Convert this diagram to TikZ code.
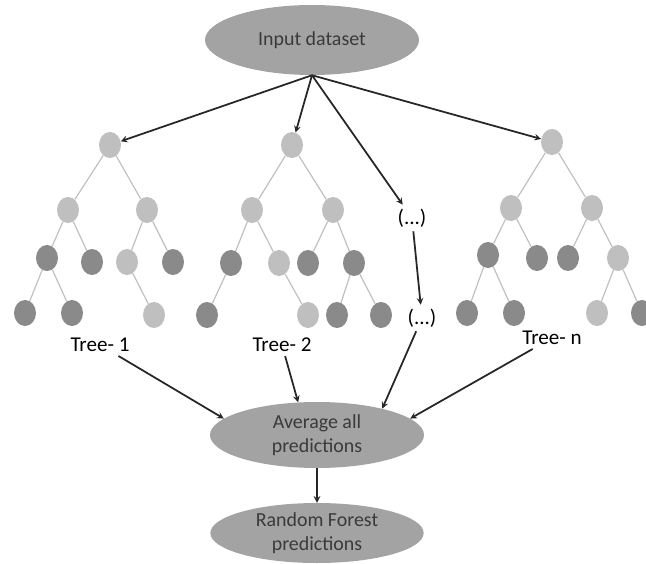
\documentclass[tikz,border=0pt]{standalone}
\usepackage{fontspec}
\setmainfont{Carlito}
\usetikzlibrary{shapes.geometric}

\definecolor{ovalgray}{HTML}{A3A3A3}
\definecolor{lightleaf}{HTML}{BFBFBF}
\definecolor{darkleaf}{HTML}{8A8A8A}
\definecolor{textgray}{HTML}{3A3A3A}

\begin{document}
\begin{tikzpicture}[
    x=0.03cm, y=-0.03cm,
    oval/.style={ellipse, fill=ovalgray, text=textgray, align=center, inner sep=0pt, font=\fontsize{17}{21}\selectfont},
    lnode/.style={ellipse, fill=lightleaf, minimum width=0.66cm, minimum height=0.78cm, inner sep=0pt},
    dnode/.style={ellipse, fill=darkleaf, minimum width=0.66cm, minimum height=0.78cm, inner sep=0pt},
    edge/.style={draw=lightleaf, line width=1pt},
    label/.style={text=black, font=\fontsize{18}{21}\selectfont},
    arr/.style={->, >=stealth, line width=1.5pt, black!85}
]
\useasboundingbox (0,0) rectangle (646,564);

% Input and output
\node[oval, minimum width=6.42cm, minimum height=2.1cm] (in) at (312,40) {Input dataset};
\node[oval, minimum width=6.42cm, minimum height=1.98cm] (avg) at (317,435) {Average all\\predictions};
\node[oval, minimum width=6.4cm, minimum height=1.8cm] (rf) at (317,533) {Random Forest\\predictions};

% Tree 1
\node[lnode] (t1r) at (110,145) {};
\node[lnode] (t1a) at (68,210) {};
\node[lnode] (t1b) at (147,210) {};
\node[dnode] (t1c) at (47,258) {};
\node[dnode] (t1d) at (92,262) {};
\node[lnode] (t1e) at (127,262) {};
\node[dnode] (t1f) at (173,262) {};
\node[dnode] (t1g) at (25,313) {};
\node[dnode] (t1h) at (72,313) {};
\node[lnode] (t1i) at (154,315) {};
\node[label] (t1lab) at (100,345) {Tree- 1};

% Tree 2
\node[lnode] (t2r) at (292,145) {};
\node[lnode] (t2a) at (252,210) {};
\node[lnode] (t2b) at (333,210) {};
\node[dnode] (t2c) at (231,263) {};
\node[lnode] (t2d) at (279,263) {};
\node[dnode] (t2e) at (308,263) {};
\node[dnode] (t2f) at (354,263) {};
\node[dnode] (t2g) at (207,315) {};
\node[lnode] (t2h) at (308,315) {};
\node[dnode] (t2i) at (337,315) {};
\node[dnode] (t2j) at (381,315) {};
\node[label] (t2lab) at (282,345) {Tree- 2};

% Further trees
\node[label] (dots1) at (412,218) {(...)};
\node[label] (dots2) at (422,318) {(...)};

% Tree n
\node[lnode] (tnr) at (552,142) {};
\node[lnode] (tna) at (511,208) {};
\node[lnode] (tnb) at (592,208) {};
\node[dnode] (tnc) at (488,255) {};
\node[dnode] (tnd) at (537,258) {};
\node[dnode] (tne) at (568,258) {};
\node[lnode] (tnf) at (618,258) {};
\node[dnode] (tng) at (467,313) {};
\node[dnode] (tnh) at (514,313) {};
\node[lnode] (tni) at (597,313) {};
\node[dnode] (tnj) at (642,313) {};
\node[label] (tnlab) at (552,338) {Tree- n};

% Tree edges
\draw[edge] (t1r) -- (t1a) (t1r) -- (t1b) (t1a) -- (t1c) (t1a) -- (t1d)
            (t1b) -- (t1e) (t1b) -- (t1f) (t1c) -- (t1g) (t1c) -- (t1h) (t1e) -- (t1i);
\draw[edge] (t2r) -- (t2a) (t2r) -- (t2b) (t2a) -- (t2c) (t2a) -- (t2d)
            (t2b) -- (t2e) (t2b) -- (t2f) (t2c) -- (t2g) (t2d) -- (t2h) (t2f) -- (t2i) (t2f) -- (t2j);
\draw[edge] (tnr) -- (tna) (tnr) -- (tnb) (tna) -- (tnc) (tna) -- (tnd)
            (tnb) -- (tne) (tnb) -- (tnf) (tnc) -- (tng) (tnc) -- (tnh) (tnf) -- (tni) (tnf) -- (tnj);

% Arrows
\draw[arr] (in.south) -- (t1r);
\draw[arr] (in.south) -- (t2r);
\draw[arr] (in.south) -- (dots1);
\draw[arr] (in.south) -- (tnr);
\draw[arr] (dots1) -- (dots2);
\draw[arr] (t1lab) -- (avg.170);
\draw[arr] (t2lab) -- (avg.120);
\draw[arr] (dots2) -- (avg.22);
\draw[arr] (tnlab) -- (avg.10);
\draw[arr] (avg) -- (rf);

\end{tikzpicture}
\end{document}
